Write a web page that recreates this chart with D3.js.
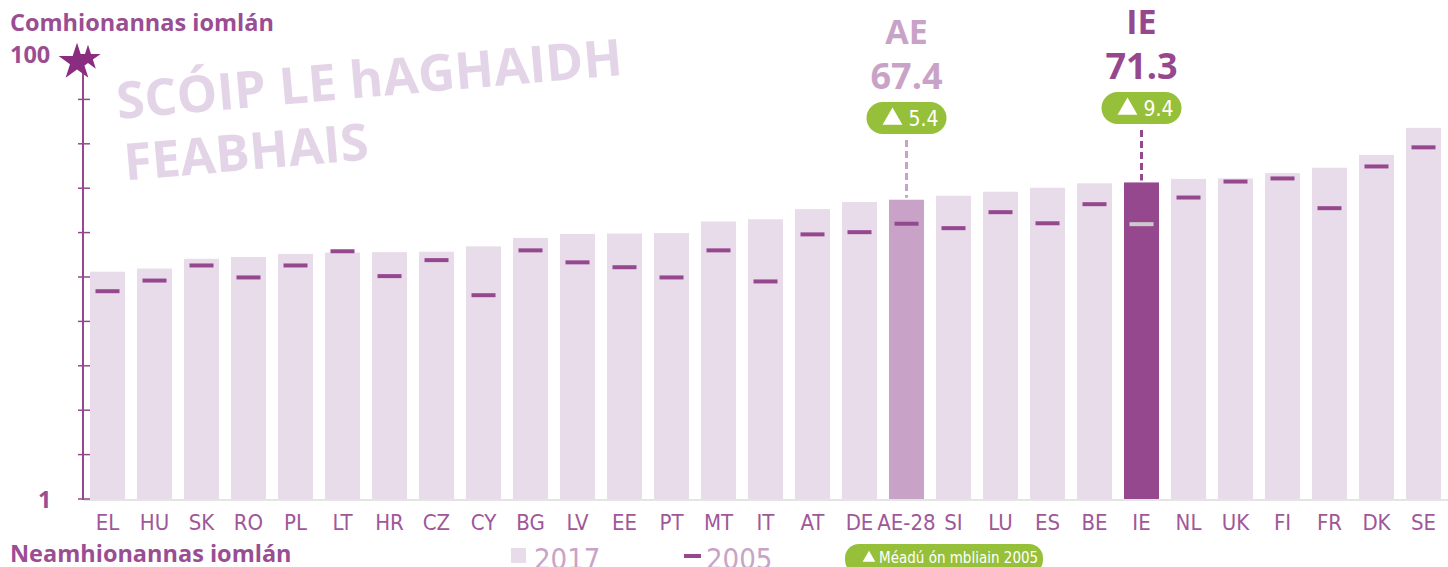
<!DOCTYPE html>
<html>
<head>
<meta charset="utf-8">
<script src="https://cdn.jsdelivr.net/npm/d3@7"></script>
<style>
  body { margin: 0; background: #fff; }
  svg { display: block; }
  .bold { font-family: "Open Sans", "Noto Sans", sans-serif; font-weight: 700; }
  .cond { font-family: "Liberation Sans Narrow", "DejaVu Sans Condensed", "Roboto", sans-serif; font-stretch: condensed; }
</style>
</head>
<body>
<div id="graph"></div>
<script>
// data
let categories = ["EL","HU","SK","RO","PL","LT","HR","CZ","CY","BG","LV","EE","PT","MT","IT","AT","DE","AE-28","SI","LU","ES","BE","IE","NL","UK","FI","FR","DK","SE"];
let values2017 = [51.2,51.9,54.1,54.5,55.2,55.5,55.6,55.7,56.9,58.8,59.7,59.8,59.9,62.5,63.0,65.3,66.9,67.4,68.3,69.2,70.1,71.1,71.3,72.1,72.2,73.4,74.6,77.5,83.6];
let values2005 = [46.8,49.2,52.6,49.9,52.6,55.8,50.2,53.8,45.9,56.0,53.3,52.2,49.9,56.0,49.0,59.6,60.1,62.0,61.0,64.6,62.1,66.4,61.9,67.9,71.5,72.2,65.5,74.9,79.2];
let highlightCats = ["AE-28", "IE"];
let highlightNames = ["AE", "IE"];
let highlightChange = [5.4, 9.4];
let tickValues = [0,10,20,30,40,50,60,70,80,90,100];

let purple = "#96488f", light = "#e8dcea", mid = "#c9a3c7", green = "#97c03a";
let width = 1448, height = 567;

let svg = d3.select("#graph").append("svg")
  .attr("width", width).attr("height", height);

let x = d3.scaleBand()
  .domain(categories)
  .range([84, 1447])
  .paddingInner(12/47)
  .paddingOuter(6/47);

let y = d3.scaleLinear()
  .domain([0, 100])
  .range([499, 55]);

let base = y(0);

// watermark
let wm = svg.append("g")
  .attr("transform", "translate(118,119) rotate(-5)")
  .attr("fill", "#e3d5e7")
  .attr("class", "bold")
  .style("font-size", "51px");
wm.append("text").attr("x", 0).attr("y", 0).text("SCÓIP LE hAGHAIDH");
wm.append("text").attr("x", 2).attr("y", 62).text("FEABHAIS");

// baseline
svg.append("line")
  .attr("x1", 84).attr("x2", width)
  .attr("y1", base + 1).attr("y2", base + 1)
  .attr("stroke", "#e4e4e4").attr("stroke-width", 2);

// bars 2017
let data = categories.map((c, i) => ({cat: c, v17: values2017[i], v05: values2005[i]}));

svg.append("g").selectAll("rect")
  .data(data)
  .join("rect")
  .attr("x", d => x(d.cat))
  .attr("width", x.bandwidth())
  .attr("y", d => y(d.v17))
  .attr("height", d => base - y(d.v17))
  .attr("fill", d => d.cat == "IE" ? purple : d.cat == "AE-28" ? mid : light);

// 2005 marks
svg.append("g").selectAll("rect")
  .data(data)
  .join("rect")
  .attr("x", d => x(d.cat) + x.bandwidth()/2 - 12)
  .attr("width", 24)
  .attr("y", d => y(d.v05) - 2)
  .attr("height", 4)
  .attr("fill", d => d.cat == "IE" ? "#cccccc" : purple);

// axis
let ax = svg.append("g");
ax.append("line")
  .attr("x1", 83).attr("x2", 83)
  .attr("y1", y(100)).attr("y2", base + 1)
  .attr("stroke", purple).attr("stroke-width", 2);
ax.selectAll(".tick")
  .data(tickValues.slice(0, -1))
  .join("line")
  .attr("x1", 78).attr("x2", 90)
  .attr("y1", d => y(d)).attr("y2", d => y(d))
  .attr("stroke", purple).attr("stroke-width", 1.5);

// star at top of the axis
let star = d3.symbol().type(d3.symbolStar).size(420);
svg.append("path").attr("d", star()).attr("transform", "translate(77,62)").attr("fill", "#8a2d80");
svg.append("path").attr("d", d3.symbol().type(d3.symbolStar).size(200)()).attr("transform", "translate(88,58)").attr("fill", "#8a2d80");

// x labels
svg.append("g").selectAll("text")
  .data(categories)
  .join("text")
  .attr("class", "cond")
  .attr("x", d => x(d) + x.bandwidth()/2)
  .attr("y", 530)
  .attr("text-anchor", "middle")
  .attr("fill", "#a0579a")
  .style("font-size", "22px")
  .text(d => d);

// axis titles
svg.append("text").attr("class", "bold").attr("x", 10).attr("y", 31)
  .attr("fill", "#9a4d93").style("font-size", "23.5px").text("Comhionannas iomlán");
svg.append("text").attr("class", "bold").attr("x", 10).attr("y", 63)
  .attr("fill", "#9a4d93").style("font-size", "23.5px").text("100");
svg.append("text").attr("class", "bold").attr("x", 38).attr("y", 508)
  .attr("fill", "#9a4d93").style("font-size", "23.5px").text("1");
svg.append("text").attr("class", "bold").attr("x", 10).attr("y", 562)
  .attr("fill", "#9a4d93").style("font-size", "23.5px").text("Neamhionannas iomlán");

// highlighted bars: labels, pills, dashed lines
highlightCats.forEach((c, i) => {
  let cx = x(c) + x.bandwidth()/2;
  let v = values2017[categories.indexOf(c)];
  let col = c == "IE" ? purple : mid;
  let top = c == "IE" ? 0 : 10;
  svg.append("text").attr("class", "bold").attr("x", cx).attr("y", top + 34)
    .attr("text-anchor", "middle").attr("fill", col).style("font-size", "34px")
    .text(highlightNames[i]);
  svg.append("text").attr("class", "bold").attr("x", cx).attr("y", top + 79)
    .attr("text-anchor", "middle").attr("fill", col).style("font-size", "36px")
    .text(v.toFixed(1));
  let py = top + 108;
  svg.append("line")
    .attr("x1", cx).attr("x2", cx)
    .attr("y1", py + 22).attr("y2", y(v) - 2)
    .attr("stroke", col).attr("stroke-width", 3)
    .attr("stroke-dasharray", "7,4");
  svg.append("rect")
    .attr("x", cx - 40).attr("y", py - 16)
    .attr("width", 80).attr("height", 32).attr("rx", 16)
    .attr("fill", green);
  svg.append("path")
    .attr("d", d3.symbol().type(d3.symbolTriangle).size(170)())
    .attr("transform", `translate(${cx - 14},${py + 1})`)
    .attr("fill", "#fff");
  svg.append("text").attr("class", "cond").attr("x", cx + 2).attr("y", py + 8)
    .attr("fill", "#fff").style("font-size", "21px")
    .text(highlightChange[i].toFixed(1));
});

// legend
svg.append("rect").attr("x", 511).attr("y", 548).attr("width", 15).attr("height", 15).attr("fill", light);
svg.append("text").attr("class", "cond").attr("x", 534).attr("y", 569)
  .attr("fill", mid).style("font-size", "29px").style("font-weight", 300).text("2017");
svg.append("rect").attr("x", 684).attr("y", 554).attr("width", 17).attr("height", 4).attr("fill", purple);
svg.append("text").attr("class", "cond").attr("x", 706).attr("y", 569)
  .attr("fill", mid).style("font-size", "29px").style("font-weight", 300).text("2005");
svg.append("rect").attr("x", 845).attr("y", 544).attr("width", 198).attr("height", 30).attr("rx", 14).attr("fill", green);
svg.append("path")
  .attr("d", d3.symbol().type(d3.symbolTriangle).size(70)())
  .attr("transform", "translate(869,558)").attr("fill", "#fff");
svg.append("text").attr("class", "cond").attr("x", 879).attr("y", 563)
  .attr("fill", "#fff").style("font-size", "15px").text("Méadú ón mbliain 2005");
</script>
</body>
</html>
